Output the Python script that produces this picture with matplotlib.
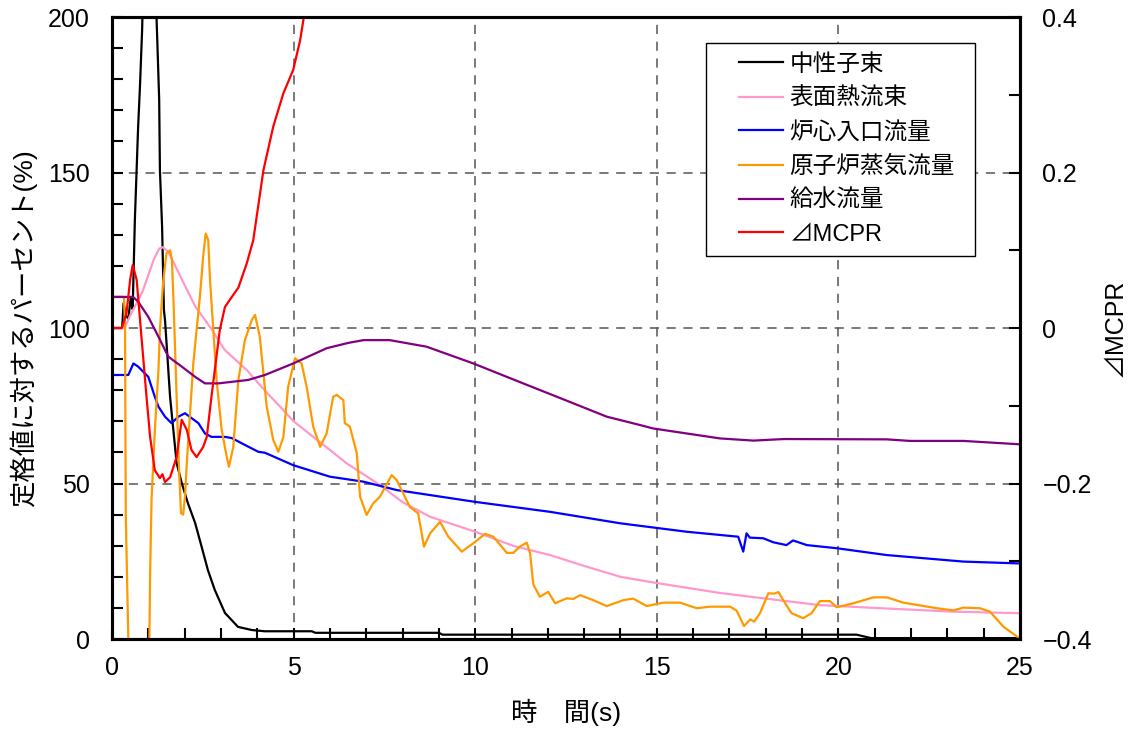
import matplotlib
matplotlib.use("Agg")
import matplotlib.pyplot as plt
from matplotlib.patches import Rectangle
from matplotlib.ticker import MultipleLocator

plt.rcParams['font.family'] = ['Liberation Sans', 'Noto Sans CJK JP', 'DejaVu Sans']
plt.rcParams['axes.unicode_minus'] = True

# 時間(s) と各パラメータ(定格値に対する%)
neutron_t = [0, 0.28, 0.32, 0.38, 0.45, 0.52, 0.57, 0.63, 0.72, 0.77, 0.83, 1.0, 1.25, 1.30,
             1.32, 1.38, 1.43, 1.46, 1.60, 1.69, 1.78, 1.92, 2.09, 2.29, 2.47, 2.64, 2.83,
             3.11, 3.47, 3.85, 4.2, 5.5, 5.6, 9.0, 9.1, 20.5, 20.9, 25]
neutron_v = [100, 100, 108, 104, 103, 110, 106, 134.7, 164.6, 177.5, 195.8, 280, 191.6, 173.3,
             150.8, 132.5, 105.8, 102.6, 77.8, 67.2, 56.6, 50.2, 43.7, 37.3, 29.6, 22.2, 15.8,
             8.4, 3.9, 2.9, 2.5, 2.5, 2.0, 2.0, 1.4, 1.4, 0.3, 0.3]

heat_t = [0, 0.35, 0.5, 0.68, 0.85, 1.0, 1.15, 1.3, 1.4, 1.55, 1.7, 1.95, 2.29, 2.75, 3.1,
          3.71, 4.2, 4.63, 5.0, 5.54, 6.0, 6.46, 6.92, 7.38, 8.0, 8.76, 10.0, 11.04, 12.06,
          13.0, 14.0, 15.0, 16.74, 18.0, 19.49, 21.0, 23.15, 25]
heat_v = [100, 100, 104, 108, 112, 117, 122, 125.5, 126, 124.5, 121, 115, 107, 99.5, 93,
          86.5, 80, 74.7, 70, 65, 60.8, 56.5, 53, 49.5, 44, 39.3, 34.5, 30, 27,
          23.5, 20, 18, 14.8, 13, 10.9, 10, 8.8, 8.3]

core_t = [0, 0.45, 0.59, 0.72, 1.0, 1.18, 1.28, 1.46, 1.64, 1.83, 2.01, 2.38, 2.56, 2.74,
          3.11, 3.3, 3.66, 4.03, 4.21, 4.99, 6.0, 6.92, 7.84, 10.0, 12.06, 14.0, 15.82,
          17.24, 17.38, 17.47, 17.56, 17.93, 18.21, 18.57, 18.75, 19.13, 19.95, 21.33,
          23.44, 25]
core_v = [84.9, 84.9, 88.6, 87.6, 84.3, 77.9, 74.7, 71.5, 69.4, 71.5, 72.6, 69.4, 66.1, 65.0,
          65.0, 64.6, 62.4, 60.2, 59.9, 55.9, 52.2, 50.6, 47.9, 44.1, 40.9, 37.2, 34.5,
          32.9, 28.1, 34.0, 32.6, 32.4, 31.1, 30.2, 31.7, 30.2, 29.2, 27.0,
          24.9, 24.3]

steam_t = [0, 0.33, 0.36, 0.38, 0.45, 1.03, 1.05, 1.09, 1.18, 1.28, 1.32, 1.41, 1.5, 1.6,
           1.65, 1.69, 1.73, 1.78, 1.84, 1.9, 1.96, 2.01, 2.06, 2.15, 2.24, 2.33, 2.42,
           2.51, 2.58, 2.65, 2.7, 2.79, 2.88, 3.02, 3.16, 3.22, 3.34, 3.48, 3.66, 3.85,
           3.94, 4.07, 4.26, 4.44, 4.58, 4.72, 4.85, 5.04, 5.22, 5.36, 5.54, 5.73, 5.91,
           6.09, 6.19, 6.37, 6.41, 6.55, 6.74, 6.83, 7.01, 7.19, 7.38, 7.7, 7.84, 8.2,
           8.43, 8.59, 8.76, 9.03, 9.26, 9.63, 9.95, 10.27, 10.5, 10.87, 11.05, 11.23,
           11.42, 11.51, 11.6, 11.78, 12.01, 12.2, 12.52, 12.7, 12.89, 13.25, 13.62,
           14.08, 14.35, 14.72, 15.18, 15.64, 16.1, 16.46, 17.02, 17.2, 17.4, 17.57,
           17.68, 17.84, 18.07, 18.23, 18.35, 18.48, 18.71, 19.03, 19.26, 19.49, 19.77,
           19.95, 20.41, 20.96, 21.33, 21.79, 22.71, 23.16, 23.44, 23.9, 24.17, 24.54,
           24.95, 25]
steam_v = [110, 110, 100, 40, 0, 0, 21, 45, 67, 86.5, 99.4, 115, 124, 125,
           122, 110, 96, 77.9, 56.6, 40.5, 40, 45.8, 56.6, 72.7, 88.7, 99.4, 110,
           122.9, 130.4, 128.3, 115.4, 99.4, 83.3, 67.2, 58.6, 55.4, 61.8, 83.3, 96.1, 102.6,
           104.2, 97.2, 74.7, 64, 60.2, 65, 81.1, 90.3, 88.6, 81.1, 68.3, 61.8, 66.1,
           77.9, 78.5, 76.8, 69.4, 68.3, 59.7, 45.8, 39.9, 43.6, 45.8, 52.7, 51.1, 42.5,
           40.4, 29.7, 34, 37.7, 32.9, 28.1, 30.8, 33.8, 32.9, 27.7, 27.7, 29.7,
           31.0, 27.6, 17.5, 13.6, 15.2, 11.5, 13.1, 12.9, 14.1, 12.5, 10.6,
           12.5, 13.0, 10.6, 11.7, 11.7, 9.9, 10.4, 10.4, 9.1, 4.2, 6.3,
           5.6, 8.3, 14.7, 14.6, 15.1, 12.5, 8.3, 6.7, 8.3, 12.2, 12.2,
           10.2, 11.5, 13.4, 13.4, 11.7, 9.9, 9.2, 10.1, 9.9, 8.8, 4.0,
           0.5, 0]

feed_t = [0, 0.58, 0.72, 1.0, 1.28, 1.55, 1.92, 2.29, 2.56, 2.93, 3.3, 3.75, 4.21, 4.99,
          5.91, 6.5, 6.92, 7.65, 8.66, 9.95, 11.32, 12.7, 13.62, 14.54, 14.9, 16.74,
          17.66, 18.5, 21.33, 21.97, 23.44, 25]
feed_v = [110, 110, 108.5, 103.6, 97.2, 90.8, 87.6, 84.3, 82.2, 82.2, 82.7, 83.3, 84.9, 88.6,
          93.5, 95.2, 96.1, 96.1, 94, 88.6, 82.2, 75.8, 71.5, 68.8, 67.7, 64.5,
          63.8, 64.3, 64.2, 63.7, 63.7, 62.6]

# ⊿MCPR(右軸)
mcpr_t = [0, 0.27, 0.40, 0.5, 0.57, 0.68, 0.82, 0.95, 1.05, 1.18, 1.32, 1.39, 1.46, 1.6,
          1.78, 1.92, 2.06, 2.19, 2.33, 2.51, 2.61, 2.74, 2.97, 3.11, 3.3, 3.48, 3.71, 3.89,
          4.17, 4.44, 4.72, 4.99, 5.18, 5.29, 5.5]
mcpr_v = [0, 0, 0.019, 0.062, 0.081, 0.062, -0.016, -0.088, -0.14, -0.183, -0.193, -0.188,
          -0.198, -0.192, -0.166, -0.118, -0.131, -0.157, -0.166, -0.153, -0.14, -0.088,
          -0.002, 0.027, 0.040, 0.052, 0.083, 0.113, 0.203, 0.259, 0.302, 0.332, 0.37, 0.402, 0.45]

labels = ['中性子束', '表面熱流束', '炉心入口流量', '原子炉蒸気流量', '給水流量', '⊿MCPR']
colors = ['black', '#ff99cc', '#0000ff', '#ff9900', '#800080', '#ff0000']

fig = plt.figure(figsize=(11.31, 7.33), dpi=100)
ax = fig.add_axes([0.099, 0.1282, 0.8029, 0.8486])
ax2 = ax.twinx()

ax.set_xlim(0, 25)
ax.set_ylim(0, 200)
ax2.set_ylim(-0.4, 0.4)

lw = 1.6
lines = []
lines += ax.plot(neutron_t, neutron_v, color=colors[0], lw=lw, label=labels[0])
lines += ax.plot(heat_t, heat_v, color=colors[1], lw=lw, label=labels[1])
lines += ax.plot(core_t, core_v, color=colors[2], lw=lw, label=labels[2])
lines += ax.plot(steam_t, steam_v, color=colors[3], lw=lw, label=labels[3])
lines += ax.plot(feed_t, feed_v, color=colors[4], lw=lw, label=labels[4])
lines += ax2.plot(mcpr_t, mcpr_v, color=colors[5], lw=lw, label=labels[5])

# grid
for xv in [5, 10, 15, 20]:
    ax.axvline(xv, color='#555555', lw=1.1, ls=(0, (6, 5)), zorder=0.5)
for yv in [50, 100, 150]:
    ax.axhline(yv, color='#555555', lw=1.1, ls=(0, (6, 5)), zorder=0.5)

ax.xaxis.set_major_locator(MultipleLocator(5))
ax.xaxis.set_minor_locator(MultipleLocator(1))
ax.yaxis.set_major_locator(MultipleLocator(50))
ax.yaxis.set_minor_locator(MultipleLocator(10))
ax2.yaxis.set_major_locator(MultipleLocator(0.2))
ax2.yaxis.set_minor_locator(MultipleLocator(0.1))

ax.tick_params(axis='both', which='both', direction='in', width=1.5, labelsize=18)
ax.tick_params(axis='both', which='major', length=8, pad=12)
ax.tick_params(axis='both', which='minor', length=8)
ax.tick_params(axis='y', which='major', pad=16)
ax2.tick_params(axis='y', which='both', direction='in', width=1.5, labelsize=18, length=8, pad=16)

ax2.set_yticks([-0.4, -0.2, 0, 0.2, 0.4])
ax2.set_yticklabels(['\u22120.4', '\u22120.2', '0', '0.2', '0.4'])

for a in (ax, ax2):
    for s in a.spines.values():
        s.set_linewidth(2.2)

ax.set_xlabel('時\u3000間(s)', fontsize=19, labelpad=14)
ax.set_ylabel('定格値に対するパーセント(%)', fontsize=19, labelpad=8)
ax2.set_ylabel('⊿MCPR', fontsize=18, labelpad=8)

# legend drawn without its own frame; a wider box is placed behind it
leg = ax2.legend(handles=lines, loc='upper left', bbox_to_anchor=(0.679, 0.958),
                 fontsize=17, frameon=False, handlelength=1.85, handletextpad=0.28,
                 labelspacing=0.5, borderpad=0.45, borderaxespad=0)
leg.set_zorder(6)

fig.canvas.draw()
bb = leg.get_window_extent().transformed(fig.transFigure.inverted())
x0 = 706 / 1131
x1 = 975 / 1131
frame = Rectangle((x0, bb.y0), x1 - x0, bb.y1 - bb.y0, transform=fig.transFigure,
                  facecolor='white', edgecolor='black', lw=1.0, zorder=5, clip_on=False)
ax2.add_artist(frame)

fig.savefig('out.png', dpi=100)
